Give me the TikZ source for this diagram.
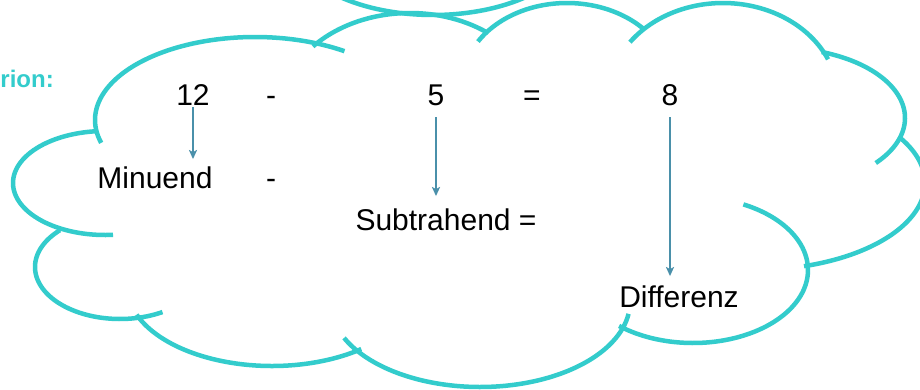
\documentclass[tikz,border=0pt]{standalone}
\usepackage{fontspec}
\setmainfont{Liberation Sans}
\usetikzlibrary{arrows.meta}
\definecolor{cloudc}{RGB}{51,204,204}
\definecolor{arrc}{RGB}{74,144,170}
\begin{document}
\begin{tikzpicture}[x=1pt,y=-1pt,
  lobe/.style={draw=cloudc, line width=4.5pt},
  lbl/.style={font=\fontsize{30}{34}\selectfont, inner sep=0pt, anchor=base},
  arr/.style={draw=arrc, line width=1.8pt, -{Stealth[length=9pt,width=8pt,inset=2pt]}}]
\useasboundingbox (0,0) rectangle (920,389);
\clip (0,0) rectangle (920,389);
\fill[white] (0,0) rectangle (920,389);
% lobe: centre x, centre y, x radius, y radius, angle range (y grows downwards)
\newcommand{\cloudlobe}[6]{\draw[lobe] plot[domain=#5:#6, samples=60, smooth] ({#1+#3*cos(\x)}, {#2+#4*sin(\x)});}
% other cloud at the top
\cloudlobe{433}{-60}{143}{75}{25}{155}
% main cloud lobes
\cloudlobe{255}{120}{160}{83}{164}{304}
\cloudlobe{410}{113}{130}{100}{221.7}{306.9}
\cloudlobe{567}{85}{105}{82}{212}{316.4}
\cloudlobe{723}{98}{115}{95}{216}{336}
\cloudlobe{780}{118}{125}{70}{-70.5}{40}
\cloudlobe{754}{183}{171}{87}{-31}{73}
\cloudlobe{693}{270}{115}{73}{-64}{130}
\cloudlobe{480}{302}{150}{85}{8}{155}
\cloudlobe{272}{286}{145}{80}{52}{159}
\cloudlobe{120}{267}{85}{52}{60}{225}
\cloudlobe{105}{183}{92}{52}{85}{265}
% texts
\node[lbl, font=\fontsize{24}{28}\selectfont\bfseries, text=cloudc, anchor=base east] (rion) at (54,87) {rion:};
\node[lbl] (n12) at (193,105) {12};
\node[lbl] (m1) at (271,105) {-};
\node[lbl] (n5) at (436,105) {5};
\node[lbl] (eq1) at (532,105) {=};
\node[lbl] (n8) at (670,105) {8};
\node[lbl] (minuend) at (155,188) {Minuend};
\node[lbl] (m2) at (271,188) {-};
\node[lbl] (sub) at (446,230) {Subtrahend =};
\node[lbl] (diff) at (679,307) {Differenz};
% arrows
\draw[arr, shorten <=2pt, shorten >=7pt] (n12.south) -- (n12.south |- minuend.north);
\draw[arr, shorten <=12pt, shorten >=12pt] (n5.south) -- (n5.south |- sub.north);
\draw[arr, shorten <=12pt, shorten >=9pt] (n8.south) -- (n8.south |- diff.north);
\end{tikzpicture}
\end{document}
